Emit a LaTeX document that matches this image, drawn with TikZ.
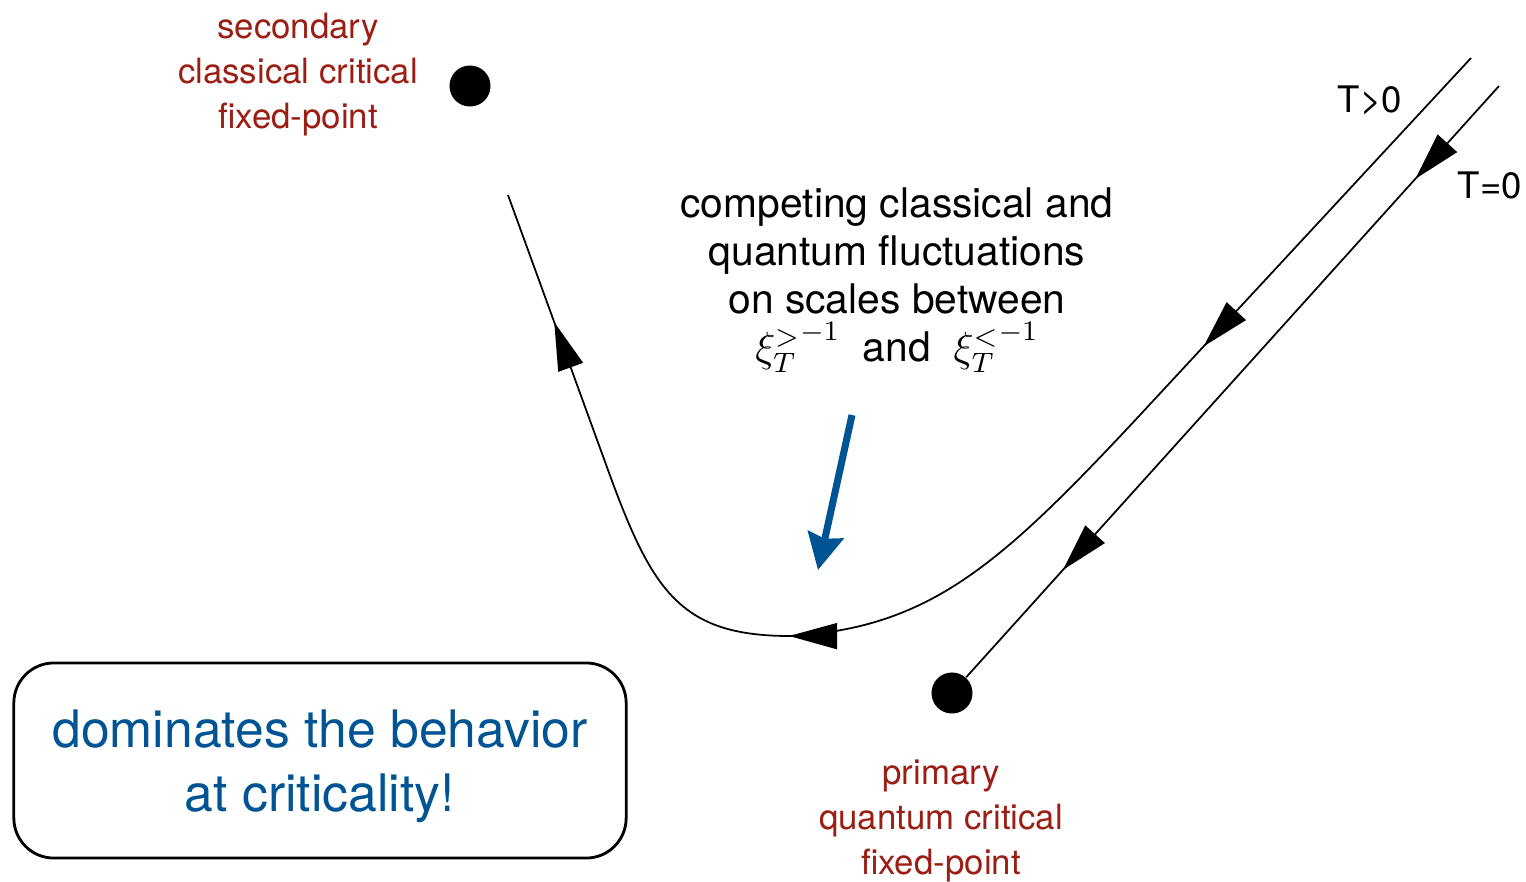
\documentclass[tikz,border=0pt]{standalone}
\usepackage{fontspec}
\setmainfont{TeX Gyre Heros}
\usetikzlibrary{arrows.meta,decorations.markings,positioning}
\definecolor{fpred}{RGB}{155,30,20}
\definecolor{fpblue}{RGB}{0,84,147}
\tikzset{
    fixpt/.style={circle,fill=black,inner sep=0pt,minimum size=4.1mm},
    fplabel/.style={text=fpred,align=center,font=\fontsize{9.9}{12.8}\selectfont},
    tlabel/.style={font=\fontsize{10.4}{12}\selectfont},
    flow/.style={line width=0.5pt},
    tipat/.style={postaction={decorate,decoration={markings,
            mark=at position #1 with {\arrow{Triangle[length=4.8mm,width=2.6mm]}}}}},
    hint/.style={fpblue,line width=2pt,-{Stealth[length=3.6mm,width=3.6mm,inset=0.4mm]}},
    msgbox/.style={draw,rounded corners=4mm,line width=0.8pt,
            minimum width=6.12cm,minimum height=1.95cm,
            text=fpblue,align=center,font=\fontsize{14.7}{18.2}\selectfont},
}

\begin{document}
\begin{tikzpicture}[x=0.01cm,y=-0.01cm]
\useasboundingbox (0,0) rectangle (1526,881);
\node[fixpt] (sec) at (470,86) {};
\node[fixpt] (prim) at (952,693) {};
\node[fplabel] (seclbl) at (298,75) {secondary\\classical critical\\fixed-point};
\node[fplabel] (primlbl) at (941,821) {primary\\quantum critical\\fixed-point};
\coordinate (hot) at (1471,58);
\coordinate (cold) at (1499,86);
\coordinate (lead) at (508,195);
\node[tlabel] (hotlbl) at (1370,100) {T>0};
\node[tlabel] (coldlbl) at (1490,185) {T=0};
\draw[flow,tipat=3.93cm,tipat=9.14cm,tipat=-1.35cm] (hot) -- (1140,415)
    .. controls (1000,565) and (930,628) .. (790,636)
    .. controls (680,636) and (652,591) .. (608,470) -- (lead);
\draw[flow,tipat=1.25cm,tipat=6.51cm] (cold) -- (prim);
\node[align=center,font=\fontsize{11.6}{13.7}\selectfont,anchor=north] (comp) at (897,175)
    {competing classical and\\quantum fluctuations\\on scales between\\
     ${\xi_T^>}^{-1}$\ \ and\ \ ${\xi_T^<}^{-1}$};
\coordinate (hintfrom) at (852,415);
\coordinate (hintto) at (818,570);
\draw[hint] (hintfrom) -- (hintto);
\node[msgbox] (msg) at (320,760.5) {\rule{0pt}{14pt}dominates the behavior\\at criticality!};
\end{tikzpicture}
\end{document}
